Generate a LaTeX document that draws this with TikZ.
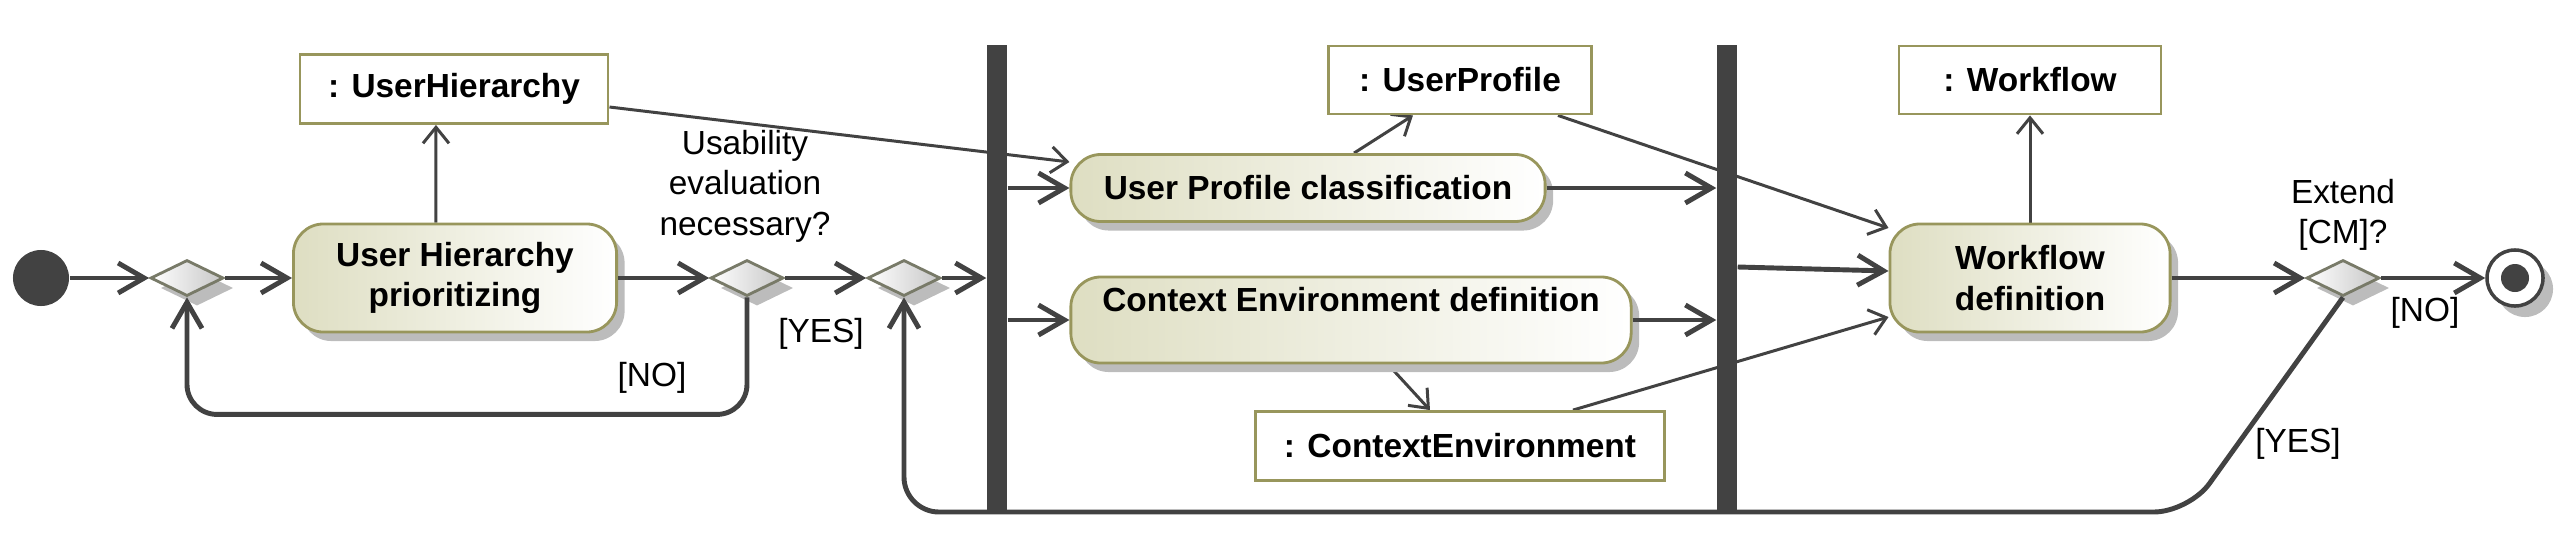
\documentclass[tikz,border=0pt]{standalone}
\usepackage{fontspec}
\setmainfont{Liberation Sans}
\usetikzlibrary{arrows.meta,positioning,calc,backgrounds,shadows,shapes.geometric}
\newcommand{\umlfont}{\fontsize{9.5}{11.5}\selectfont}
\definecolor{FlowC}{RGB}{66,66,66}
\definecolor{ActL}{RGB}{222,222,194}
\definecolor{OliveC}{RGB}{152,150,92}
\definecolor{DecC}{RGB}{120,122,104}
\definecolor{ShadC}{RGB}{188,188,188}
\tikzset{
  act/.style={rounded corners=0.3cm,draw=OliveC,line width=0.8pt,
              left color=ActL,right color=white,font=\umlfont\bfseries,
              align=center,inner sep=0pt,
              drop shadow={shadow xshift=0.08cm,shadow yshift=-0.09cm,fill=ShadC,opacity=1}},
  obj/.style={draw=OliveC,line width=0.8pt,fill=white,minimum height=0.68cm,
              font=\umlfont\bfseries,inner sep=0pt},
  dec/.style={diamond,draw=DecC,line width=0.8pt,left color=white,right color=black!22,
              minimum width=0.73cm,minimum height=0.36cm,inner sep=0pt,
              drop shadow={shadow xshift=0.1cm,shadow yshift=-0.1cm,fill=ShadC,opacity=1}},
  bar/.style={fill=FlowC,minimum width=0.2cm,minimum height=4.67cm,inner sep=0pt},
  initnode/.style={circle,fill=FlowC,minimum size=0.56cm,inner sep=0pt},
  finalnode/.style={circle,draw=FlowC,line width=1pt,fill=white,minimum size=0.56cm,inner sep=0pt,
              path picture={\fill[FlowC] (path picture bounding box.center) circle (0.14cm);},
              drop shadow={shadow xshift=0.1cm,shadow yshift=-0.11cm,fill=ShadC,opacity=1}},
  guard/.style={font=\umlfont,inner sep=1pt},
  flow/.style ={-{Straight Barb[length=2.6mm,width=3mm]},line width=1.4pt,FlowC},
  oflow/.style={-{Straight Barb[length=1.6mm,width=2.6mm]},line width=0.85pt,FlowC},
}

\begin{document}
\begin{tikzpicture}[x=0.01cm,y=-0.01cm]
  \useasboundingbox (0,0) rectangle (2565,557);

  % actions and control nodes
  \node[initnode] (start) at (41,278) {};
  \node[dec] (merge1) at (187,278) {};
  \node[act,minimum width=3.23cm,minimum height=1.08cm] (prio) at (455,278) {User Hierarchy\\prioritizing};
  \node[dec] (usab) at (747,278) {};
  \node[dec] (merge2) at (904,278) {};
  \node[bar] (fork) at (997,278.5) {};
  \node[act,minimum width=4.74cm,minimum height=0.67cm] (classif) at (1308,188) {User Profile classification};
  \node[act,minimum width=5.6cm,minimum height=0.86cm] (ctxdef) at (1351,320) {Context Environment definition\\~};
  \node[bar] (join) at (1727,278.5) {};
  \node[act,minimum width=2.8cm,minimum height=1.08cm] (wfdef) at (2030,278) {Workflow\\definition};
  \node[dec] (extend) at (2343,278) {};
  \node[finalnode] (end) at (2515,278) {};

  % object nodes
  \node[obj,minimum width=3.08cm,minimum height=0.69cm] (uhobj) at (454,89) {: UserHierarchy};
  \node[obj,minimum width=2.63cm] (upobj) at (1460,80) {: UserProfile};
  \node[obj,minimum width=4.09cm,minimum height=0.69cm] (ceobj) at (1460,446) {: ContextEnvironment};
  \node[obj,minimum width=2.62cm] (wfobj) at (2030,80) {: Workflow};

  % guards
  \node[guard,align=center] (q1) at (745,186) {Usability\\evaluation\\necessary?};
  \node[guard] (yes1) at (821,334) {[YES]};
  \node[guard] (no1) at (652,378) {[NO]};
  \node[guard,align=center] (q2) at (2343,215) {Extend\\{[CM]?}};
  \node[guard] (no2) at (2425,313) {[NO]};
  \node[guard] (yes2) at (2298,444) {[YES]};

  % control flow
  \draw[flow] (start) -- (merge1);
  \draw[flow] (merge1) -- (prio);
  \draw[flow] (prio) -- (usab);
  \draw[flow] (usab) -- (merge2);
  \draw[flow,rounded corners=0.3cm] (usab.south) -- ++(0,117) -| (merge1.south);
  \draw[flow] (merge2) -- (merge2 -| fork.west);
  \draw[flow] (fork.east |- classif.west) -- (classif.west);
  \draw[flow] (fork.east |- ctxdef.west) -- (ctxdef.west);
  \draw[flow] (classif.east) -- (classif.east -| join.west);
  \draw[flow] (ctxdef.east) -- (ctxdef.east -| join.west);
  \draw[flow] ([yshift=0.115cm]join.east) -- ([yshift=0.07cm]wfdef.west);
  \draw[flow] (wfdef) -- (extend);
  \draw[flow] (extend) -- (end);
  \coordinate (backR) at (2189,512);
  \draw[flow,rounded corners=0.35cm] (extend.south) -- (backR) -- (merge2.south |- backR) -- (merge2.south);

  % object flow
  \begin{scope}[on background layer]
    \draw[oflow] ([xshift=-0.19cm]prio.north) -- ([xshift=-0.18cm]uhobj.south);
    \draw[oflow] ([yshift=-0.18cm]uhobj.east) -- ([yshift=0.26cm]classif.west);
    \draw[oflow] ([xshift=0.46cm]classif.north) -- ([xshift=-0.47cm]upobj.south);
    \draw[oflow] ([xshift=0.37cm]ctxdef.south) -- ([xshift=-0.30cm]ceobj.north);
    \draw[oflow] ([xshift=-0.35cm]upobj.south east) -- ([yshift=0.5cm]wfdef.west);
    \draw[oflow] ([xshift=-0.93cm]ceobj.north east) -- ([yshift=-0.39cm]wfdef.west);
    \draw[oflow] (wfdef) -- (wfobj);
  \end{scope}
\end{tikzpicture}
\end{document}
